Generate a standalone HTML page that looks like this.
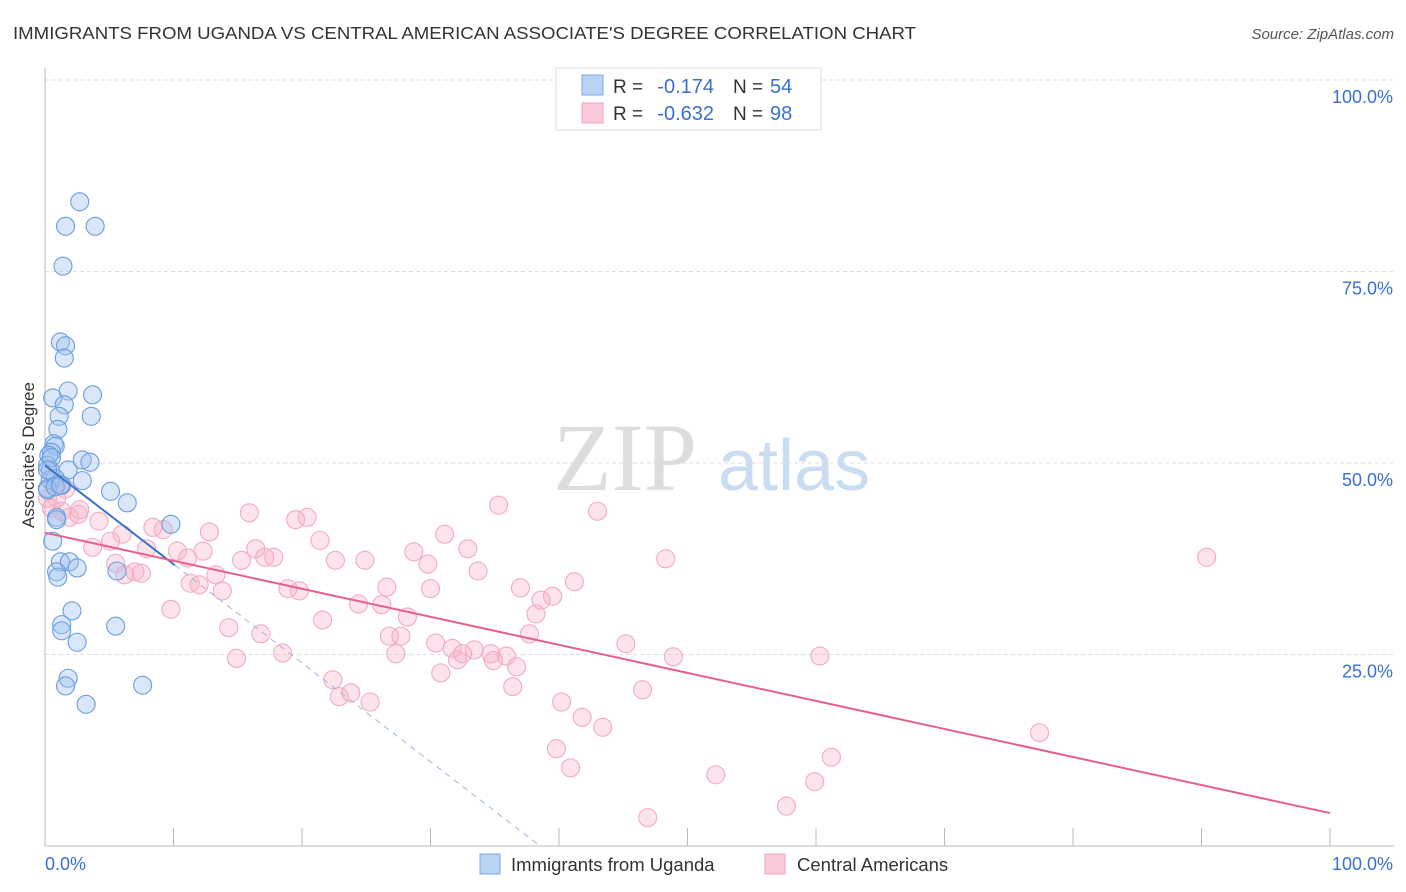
<!DOCTYPE html>
<html><head><meta charset="utf-8"><style>
body{margin:0;background:#fff;font-family:"Liberation Sans",sans-serif;}
svg{display:block}
</style></head><body>
<svg id="c" width="1406" height="892" xmlns="http://www.w3.org/2000/svg">
<text x="13" y="39" font-size="17.5" fill="#333" textLength="903" lengthAdjust="spacingAndGlyphs">IMMIGRANTS FROM UGANDA VS CENTRAL AMERICAN ASSOCIATE'S DEGREE CORRELATION CHART</text>
<text x="1394" y="39" font-size="15" fill="#555" font-style="italic" text-anchor="end">Source: ZipAtlas.com</text>
<text x="0" y="0" transform="translate(34,455) rotate(-90)" font-size="17" fill="#333" text-anchor="middle">Associate's Degree</text>
<g><text x="553" y="490" font-family="Liberation Serif,serif" font-size="96" fill="#ddd">ZIP</text><text x="718" y="490" font-size="72" fill="#c9dcf2">atlas</text></g>
<g id="grid"></g><g id="pts"></g><g id="lines"></g>
<g>
<rect x="556" y="68" width="265" height="62" fill="#fff" stroke="#ddd"/>
<rect x="582" y="75" width="21" height="20" fill="#b9d3f5" stroke="#7fa8e0"/>
<rect x="582" y="103" width="21" height="20" fill="#fbcad8" stroke="#f0a0b8"/>
<text x="613" y="93" font-size="19" fill="#333">R =</text>
<text x="714" y="93" font-size="20" fill="#3a70d0" text-anchor="end">-0.174</text>
<text x="733" y="93" font-size="19" fill="#333">N =</text>
<text x="770" y="93" font-size="20" fill="#3a70d0">54</text>
<text x="613" y="120" font-size="19" fill="#333">R =</text>
<text x="714" y="120" font-size="20" fill="#3a70d0" text-anchor="end">-0.632</text>
<text x="733" y="120" font-size="19" fill="#333">N =</text>
<text x="770" y="120" font-size="20" fill="#3a70d0">98</text>
</g>
<g>
<rect x="480" y="854" width="20" height="20" fill="#b9d3f5" stroke="#7fa8e0"/>
<text x="511" y="871" font-size="18.5" fill="#333">Immigrants from Uganda</text>
<rect x="765" y="854" width="20" height="20" fill="#fbcad8" stroke="#f0a0b8"/>
<text x="797" y="871" font-size="18.5" fill="#333">Central Americans</text>
</g>
</svg>
<script>
const blueX=[2.7,1.6,3.9,1.4,1.2,1.6,1.5,1.8,3.7,0.6,1.5,1.1,3.6,1.0,0.7,0.8,0.5,0.3,1.8,2.9,3.5,0.2,0.4,0.8,2.9,1.3,5.1,6.4,0.9,9.8,0.6,0.2,1.2,1.9,2.5,0.9,1.0,5.6,2.1,1.3,1.3,5.5,2.5,1.8,1.6,7.6,3.2,0.4,0.2,0.5,0.8,0.9,0.2,1.2];
const blueY=[84.1,80.9,80.9,75.7,65.8,65.3,63.7,59.4,58.9,58.5,57.6,56.1,56.1,54.4,52.5,52.2,51.4,51.0,49.1,50.4,50.1,49.7,49.1,48.0,47.7,47.1,46.3,44.8,42.9,42.0,39.8,46.7,37.1,37.1,36.3,35.8,35.1,35.9,30.7,28.9,28.1,28.7,26.6,21.9,20.9,21.0,18.5,47.8,46.5,50.7,46.9,42.6,49.1,47.1];
const pinkX=[35.3,43.0,31.1,32.9,33.7,28.7,29.8,26.6,30.0,37.0,38.6,39.5,41.2,38.2,28.2,26.2,24.4,22.6,24.9,21.4,20.4,19.5,15.9,12.8,12.3,17.8,16.4,17.1,15.3,10.3,11.1,8.4,9.2,7.9,5.1,6.0,3.7,4.2,2.6,1.9,1.3,0.9,0.2,1.0,1.6,0.5,2.7,5.5,6.2,7.0,7.5,11.3,12.0,13.3,13.8,9.8,14.3,16.8,14.9,18.5,18.9,19.8,26.8,27.7,27.3,30.4,31.7,32.1,32.5,33.4,34.7,34.9,35.9,36.7,37.7,30.8,36.4,22.4,23.8,22.9,25.3,40.2,41.8,43.4,45.2,46.5,48.9,48.3,60.3,39.8,40.9,52.2,59.9,61.2,57.7,46.9,77.4,90.4,21.6];
const pinkY=[44.5,43.7,40.7,38.8,35.9,38.4,36.8,33.8,33.6,33.7,32.1,32.6,34.5,30.3,29.9,31.5,31.6,37.3,37.3,39.9,42.9,42.6,43.5,41.0,38.5,37.7,38.8,37.7,37.3,38.5,37.6,41.6,41.3,38.8,39.8,40.7,39.0,42.4,43.3,42.9,43.7,45.4,45.4,47.4,46.6,44.1,43.9,36.9,35.4,35.8,35.6,34.3,34.1,35.4,33.3,30.9,28.5,27.7,24.5,25.2,33.6,33.3,27.4,27.4,25.1,26.5,25.8,24.3,25.1,25.6,25.1,24.2,24.8,23.4,27.7,22.6,20.8,21.7,20.0,19.5,18.8,18.8,16.8,15.5,26.4,20.4,24.7,37.5,24.8,12.7,10.2,9.3,8.4,11.6,5.2,3.7,14.8,37.7,29.5];
const yTicks=[25,50,75,100];
const yTickLabels=["25.0%","50.0%","75.0%","100.0%"];
const xTicks=[0,10,20,30,40,50,60,70,80,90,100];
const blueFit=[49.7,-1.29];
const pinkFit=[40.9,-0.366];
const blueSolidEnd=10.1;

const NS="http://www.w3.org/2000/svg";
const sx=v=>45+v*12.85, sy=v=>846-v*7.66;
function mk(t,a,p){const e=document.createElementNS(NS,t);for(const k in a)e.setAttribute(k,a[k]);p.appendChild(e);return e;}
const grid=document.getElementById('grid'),pts=document.getElementById('pts'),lines=document.getElementById('lines');
yTicks.forEach((v,i)=>{
 const l=mk('line',{x1:45,x2:1394,y1:sy(v),y2:sy(v),stroke:'#ddd','stroke-dasharray':'4,3'},grid);
 
 
 const t=mk('text',{x:1393,y:sy(v)+23,'font-size':18,fill:'#3a70d0','text-anchor':'end'},grid);
 t.textContent=yTickLabels[i];
 
 
});
mk('line',{x1:45,x2:45,y1:68,y2:846,stroke:'#bbb'},grid);
mk('line',{x1:45,x2:1394,y1:846,y2:846,stroke:'#bbb'},grid);
xTicks.forEach(v=>{const t=mk('line',{x1:sx(v),x2:sx(v),y1:828,y2:846,stroke:'#bbb'},grid);
 
 });
const x0=mk('text',{x:45,y:870,'font-size':18,fill:'#3a70d0'},grid);x0.textContent='0.0%';


const x1=mk('text',{x:1393,y:870,'font-size':18,fill:'#3a70d0','text-anchor':'end'},grid);x1.textContent='100.0%';


pinkX.forEach((v,i)=>{const c=mk('circle',{cx:sx(v),cy:sy(pinkY[i]),r:9,fill:'rgba(248,175,198,0.35)',stroke:'#f2aac0','stroke-width':1.1},pts);
 
 });
blueX.forEach((v,i)=>{const c=mk('circle',{cx:sx(v),cy:sy(blueY[i]),r:9,fill:'rgba(160,196,240,0.4)',stroke:'#6a9de0','stroke-width':1.1},pts);
 
 });
const bz=-blueFit[0]/blueFit[1];
const bd=mk('line',{x1:sx(blueSolidEnd),y1:sy(blueFit[0]+blueFit[1]*blueSolidEnd),x2:sx(bz),y2:sy(0),stroke:'#9ab8dc','stroke-dasharray':'6,5','stroke-width':1},lines);


const bl=mk('line',{x1:sx(0),y1:sy(blueFit[0]),x2:sx(blueSolidEnd),y2:sy(blueFit[0]+blueFit[1]*blueSolidEnd),stroke:'#3a70d0','stroke-width':2},lines);


const pl=mk('line',{x1:sx(0),y1:sy(pinkFit[0]),x2:sx(100),y2:sy(pinkFit[0]+pinkFit[1]*100),stroke:'#e8608a','stroke-width':2},lines);


</script>
</body></html>
